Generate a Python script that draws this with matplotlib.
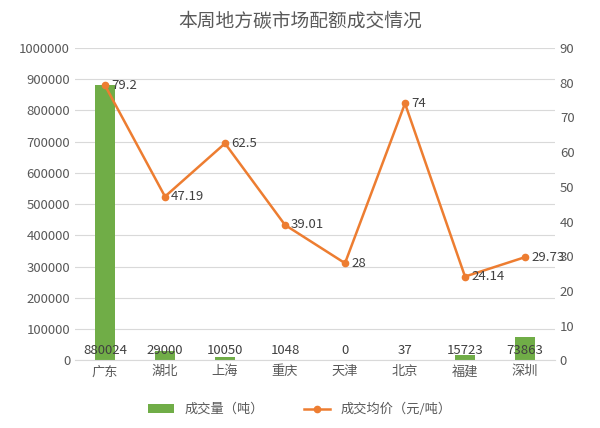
import matplotlib
matplotlib.use('Agg')
import matplotlib.pyplot as plt
from matplotlib.ticker import FuncFormatter
plt.rcParams['font.family'] = ['Noto Sans CJK SC', 'DejaVu Sans']

cats = ['广东', '湖北', '上海', '重庆', '天津', '北京', '福建', '深圳']
volume = [880024, 29000, 10050, 1048, 0, 37, 15723, 73863]
price = [79.2, 47.19, 62.5, 39.01, 28, 74, 24.14, 29.73]
price_labels = ['79.2', '47.19', '62.5', '39.01', '28', '74', '24.14', '29.73']

fig = plt.figure(figsize=(6, 4.28), dpi=100)
ax = fig.add_axes([0.125, 0.158, 0.8, 0.73])
x = range(len(cats))
b = ax.bar(x, volume, width=0.33, color='#70AD47', label='成交量（吨）', zorder=2)
ax.set_ylim(0, 1000000)
ax.set_yticks(range(0, 1000001, 100000))
ax.yaxis.set_major_formatter(FuncFormatter(lambda v, p: f'{int(v)}'))
ax.set_xlim(-0.5, 7.5)
ax.set_xticks(list(x))
ax.set_xticklabels(cats)
ax.grid(axis='y', color='#D9D9D9', lw=0.8, zorder=0)
for s in ['top', 'right', 'left']:
    ax.spines[s].set_visible(False)
ax.spines['bottom'].set_color('#D9D9D9')
ax.tick_params(length=0, labelsize=9.5, colors='#595959')
for i, v in enumerate(volume):
    ax.text(i, 12000, str(v), ha='center', va='bottom', fontsize=9.5, color='#404040', zorder=4)

ax2 = ax.twinx()
l, = ax2.plot(x, price, color='#ED7D31', lw=1.8, marker='o', ms=4.5, label='成交均价（元/吨）', zorder=3)
ax2.set_ylim(0, 90)
ax2.set_yticks(range(0, 91, 10))
for s in ['top', 'right', 'left', 'bottom']:
    ax2.spines[s].set_visible(False)
ax2.tick_params(length=0, labelsize=9.5, colors='#595959')
for i, (p, t) in enumerate(zip(price, price_labels)):
    ax2.text(i + 0.1, p, t, ha='left', va='center', fontsize=9.5, color='#404040')

fig.suptitle('本周地方碳市场配额成交情况', y=0.975, fontsize=13.5, color='#595959')
fig.legend(handles=[b, l], loc='lower center', ncol=2, frameon=False, fontsize=9.5,
           bbox_to_anchor=(0.5, 0.0), labelcolor='#595959', columnspacing=3)
fig.savefig('out.png')
